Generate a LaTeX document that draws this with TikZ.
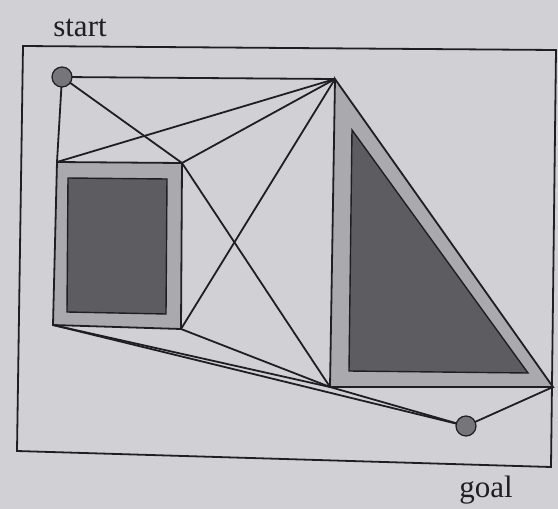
\documentclass[tikz,border=0pt]{standalone}
\usepackage{fontspec}
\setmainfont{Liberation Serif}
\definecolor{paper}{RGB}{208,208,213}
\definecolor{grown}{RGB}{170,170,174}
\definecolor{obst}{RGB}{92,92,97}
\definecolor{robot}{RGB}{118,118,122}
\definecolor{ink}{RGB}{30,30,35}
\begin{document}
\begin{tikzpicture}[x=1pt,y=-1pt,
  edge/.style={draw=ink,line width=1.8pt},
  wall/.style={draw=ink,line width=1.8pt,line join=miter},
  core/.style={draw=ink,line width=1.4pt,fill=obst},
  robotnode/.style={circle,draw=ink,line width=1.2pt,fill=robot,minimum size=20pt,inner sep=0pt},
  label/.style={anchor=base,font=\fontsize{31}{31}\selectfont,text=ink}]
% ---- 背景纸面 ----
\fill[paper] (0,0) rectangle (558,509);
\useasboundingbox (0,0) rectangle (558,509);
% ---- 角点 ----
\coordinate (rtl) at (57,162);  \coordinate (rtr) at (182,163);
\coordinate (rbr) at (181,329); \coordinate (rbl) at (53,325);
\coordinate (tt)  at (335,79);  \coordinate (tbl) at (330,387);
\coordinate (tbr) at (553,387);
% ---- 外框 ----
\draw[wall] (23,46) -- (556,50) -- (551,467) -- (17,451) -- cycle;
% ---- 扩张后的障碍物 ----
\draw[wall,fill=grown] (rtl) -- (rtr) -- (rbr) -- (rbl) -- cycle;
\draw[wall,fill=grown] (tt) -- (tbr) -- (tbl) -- cycle;
% ---- 原障碍物 ----
\draw[core] (68,178) -- (167,179) -- (166,314) -- (67,312) -- cycle;
\draw[core] (352,130) -- (528,373) -- (349,371) -- cycle;
% ---- 可见图的边 ----
\coordinate (s) at (62,77);
\coordinate (g) at (466,426);
\foreach \a/\b in {s/tt,s/rtl,s/rtr,rtl/tt,rtr/tt,rbr/tt,rtr/tbl,
                   rbl/tbl,rbl/g,rbr/tbl,tbl/g,g/tbr}
  \draw[edge] (\a) -- (\b);
% ---- 起点与终点 ----
\node[robotnode] (start) at (s) {};
\node[robotnode] (goal) at (g) {};
\node[label] (tstart) at (80,36) {start};
\node[label] (tgoal) at (486,497) {goal};
\end{tikzpicture}
\end{document}
